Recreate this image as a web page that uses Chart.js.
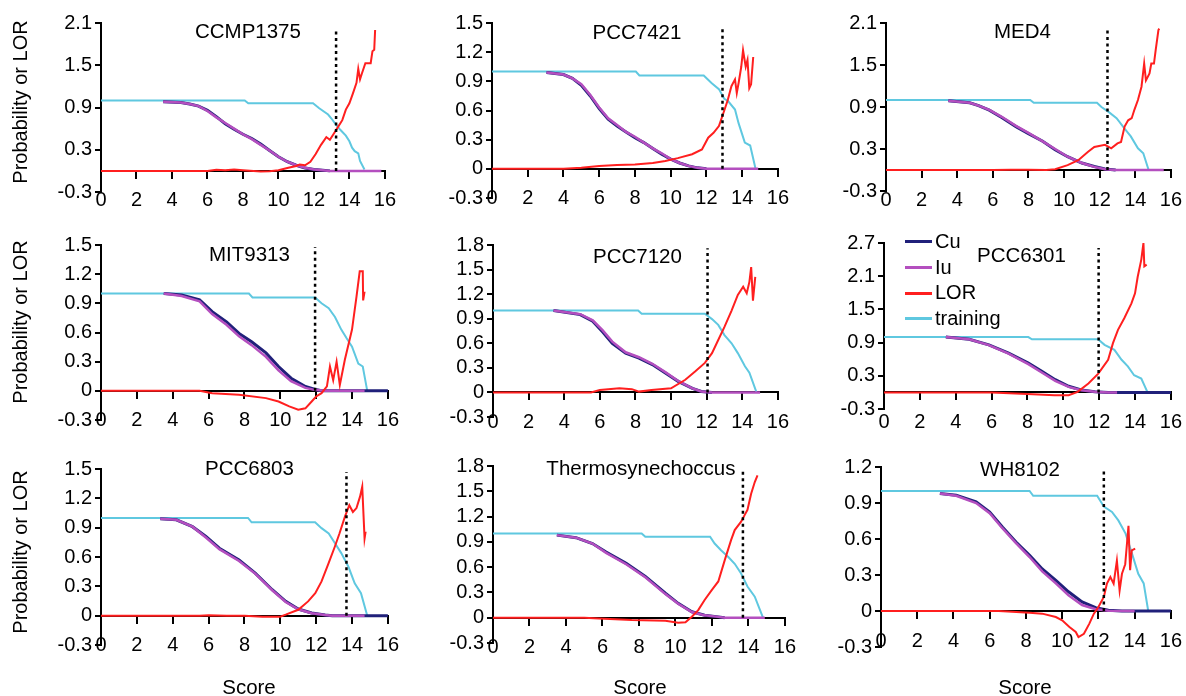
<!DOCTYPE html>
<html>
<head>
<meta charset="utf-8">
<script src="https://cdn.jsdelivr.net/npm/chart.js@4.4.1/dist/chart.umd.min.js"></script>
<style>
  body { margin: 0; background: #fff; overflow: hidden; }
  #wrap { position: relative; width: 1186px; height: 696px; font-family: "Liberation Sans", Arial, sans-serif; color: #000; }
  .panel { position: absolute; }
  .ylab { position: absolute; font-size: 20px; white-space: nowrap; transform: translate(-50%, -50%) rotate(-90deg); }
  .xlab { position: absolute; font-size: 20.5px; transform: translate(-50%, -50%); }
  .legend { position: absolute; left: 905px; top: 229px; font-size: 20px; line-height: 25.7px; }
  .legend div { display: flex; align-items: center; }
  .legend span.sw { display: inline-block; width: 27px; height: 3px; margin-right: 3px; }
</style>
</head>
<body>
<div id="wrap"></div>
<script>
// panel settings
const panelNames = ["CCMP1375", "PCC7421", "MED4", "MIT9313", "PCC7120", "PCC6301", "PCC6803", "Thermosynechoccus", "WH8102"];
const yMax = [2.1, 1.5, 2.1, 1.5, 1.8, 2.7, 1.5, 1.8, 1.2];
const yStep = [0.6, 0.3, 0.6, 0.3, 0.3, 0.6, 0.3, 0.3, 0.3];
const yMin = -0.3;
const xMin = 0, xMax = 16, xStep = 2;

// dotted cutoff line per panel
const cutoffScore = [13.25, 12.9, 12.44, 11.94, 12.05, 11.97, 13.69, 13.7, 12.3];
const cutoffTop = [2.02, 1.47, 2.02, 1.48, 1.76, 2.61, 1.47, 1.75, 1.19];

// Cu
const cuX = [
  [3.5, 4.5, 5, 5.5, 6, 6.5, 7, 7.5, 8, 8.5, 9, 9.5, 10, 10.5, 11, 11.5, 12, 12.5, 12.9],
  [3.05, 4, 4.5, 5, 5.5, 6, 6.5, 7, 7.5, 8, 8.5, 9, 9.5, 10, 10.5, 11, 11.5, 12],
  [3.5, 4.7, 5.2, 5.8, 6.5, 7.3, 8, 8.8, 9.5, 10.2, 11, 11.7, 12.3, 12.9],
  [3.5, 4.5, 5.5, 6.2, 7, 7.7, 8.4, 9.2, 9.9, 10.6, 11.4, 11.9, 12.3, 16],
  [3.4, 4.9, 5.6, 6.15, 6.7, 7.45, 8.2, 8.95, 9.7, 10.4, 11.2, 11.7, 12.3],
  [3.45, 4.75, 5.85, 6.95, 8.05, 8.8, 9.55, 10.3, 11, 11.75, 12.5, 16],
  [3.3, 4.2, 5.1, 5.85, 6.6, 7.7, 8.6, 9.55, 10.3, 11, 11.75, 12.5, 12.9, 16],
  [3.5, 4.55, 5.45, 6.2, 7.3, 8.35, 9.45, 10.15, 10.9, 11.6, 12.35, 12.7],
  [3.25, 4.15, 5.25, 6, 6.7, 7.45, 8.2, 8.9, 9.65, 10.35, 11.1, 11.85, 12.55, 13.3, 16]
];
const cuY = [
  [0.98, 0.97, 0.95, 0.92, 0.86, 0.77, 0.67, 0.59, 0.52, 0.46, 0.38, 0.29, 0.2, 0.13, 0.08, 0.04, 0.02, 0.01, 0],
  [0.99, 0.97, 0.93, 0.86, 0.75, 0.62, 0.51, 0.44, 0.38, 0.32, 0.27, 0.21, 0.15, 0.1, 0.06, 0.03, 0.01, 0],
  [0.99, 0.96, 0.92, 0.855, 0.75, 0.62, 0.52, 0.41, 0.29, 0.19, 0.1, 0.05, 0.015, 0],
  [1.0, 0.985, 0.935, 0.815, 0.71, 0.59, 0.505, 0.39, 0.25, 0.13, 0.045, 0.017, 0, 0],
  [1.0, 0.95, 0.87, 0.74, 0.6, 0.48, 0.42, 0.34, 0.235, 0.135, 0.05, 0.012, 0],
  [1.0, 0.96, 0.86, 0.71, 0.53, 0.38, 0.23, 0.11, 0.045, 0.012, 0, 0],
  [0.99, 0.98, 0.91, 0.81, 0.69, 0.57, 0.435, 0.265, 0.146, 0.068, 0.027, 0.007, 0, 0],
  [0.98, 0.95, 0.88, 0.78, 0.645, 0.49, 0.29, 0.17, 0.07, 0.03, 0.01, 0],
  [0.98, 0.965, 0.91, 0.825, 0.7, 0.575, 0.465, 0.35, 0.255, 0.16, 0.075, 0.028, 0.006, 0, 0]
];

// Iu
const iuX = [
  [3.5, 4.5, 5, 5.5, 6, 6.5, 7, 7.5, 8, 8.5, 9, 9.5, 10, 10.5, 11, 11.5, 12, 12.5, 12.9, 15.8],
  [3.05, 4, 4.5, 5, 5.5, 6, 6.5, 7, 7.5, 8, 8.5, 9, 9.5, 10, 10.5, 11, 11.5, 12, 14.9],
  [3.5, 4.7, 5.2, 5.8, 6.5, 7.3, 8, 8.8, 9.5, 10.2, 11, 11.7, 12.3, 12.9, 15.6],
  [3.5, 4.5, 5.5, 6.2, 7, 7.7, 8.4, 9.2, 9.9, 10.6, 11.4, 11.9, 12.5, 14.7],
  [3.4, 4.9, 5.6, 6.15, 6.7, 7.45, 8.2, 8.95, 9.7, 10.4, 11.2, 11.7, 12.3, 15],
  [3.45, 4.75, 5.85, 6.95, 8.05, 8.8, 9.55, 10.3, 11, 11.75, 12.5, 13],
  [3.3, 4.2, 5.1, 5.85, 6.6, 7.7, 8.6, 9.55, 10.3, 11, 11.75, 12.5, 12.9, 14.7],
  [3.5, 4.55, 5.45, 6.2, 7.3, 8.35, 9.45, 10.15, 10.9, 11.6, 12.35, 12.7, 14.9],
  [3.25, 4.15, 5.25, 6, 6.7, 7.45, 8.2, 8.9, 9.65, 10.35, 11.1, 11.85, 12.55, 14]
];
const iuY = [
  [0.98, 0.97, 0.95, 0.92, 0.85, 0.76, 0.68, 0.6, 0.52, 0.45, 0.37, 0.29, 0.2, 0.13, 0.08, 0.045, 0.02, 0.01, 0, 0],
  [0.99, 0.97, 0.93, 0.87, 0.76, 0.63, 0.52, 0.45, 0.38, 0.33, 0.27, 0.21, 0.16, 0.1, 0.06, 0.03, 0.01, 0, 0],
  [0.99, 0.96, 0.92, 0.86, 0.76, 0.63, 0.53, 0.41, 0.3, 0.19, 0.1, 0.045, 0.012, 0, 0],
  [1.0, 0.975, 0.92, 0.79, 0.68, 0.56, 0.47, 0.35, 0.21, 0.1, 0.03, 0.01, 0, 0],
  [1.0, 0.955, 0.88, 0.76, 0.62, 0.49, 0.43, 0.35, 0.245, 0.14, 0.05, 0.012, 0, 0],
  [1.0, 0.96, 0.855, 0.7, 0.51, 0.36, 0.21, 0.1, 0.04, 0.01, 0, 0],
  [0.99, 0.98, 0.91, 0.8, 0.68, 0.56, 0.43, 0.26, 0.14, 0.065, 0.025, 0.006, 0, 0],
  [0.98, 0.95, 0.88, 0.77, 0.635, 0.48, 0.28, 0.165, 0.068, 0.028, 0.01, 0, 0],
  [0.98, 0.96, 0.9, 0.815, 0.69, 0.565, 0.45, 0.33, 0.23, 0.13, 0.05, 0.015, 0.003, 0]
];

// LOR
const lorX = [
  [0, 6, 6.5, 7, 7.5, 8, 9, 9.5, 10, 10.5, 11, 11.2, 11.5, 11.8, 12.1, 12.4, 12.7, 12.9, 13.1, 13.3, 13.6, 13.8, 14, 14.2, 14.4, 14.5, 14.6, 14.7, 14.9, 15.2, 15.3, 15.4, 15.45],
  [0, 4, 5, 6, 7, 8, 9, 9.7, 10.4, 11.2, 11.75, 12.1, 12.4, 12.7, 13, 13.2, 13.4, 13.6, 13.7, 13.8, 13.95, 14.05, 14.2, 14.3, 14.4, 14.5, 14.62],
  [0, 6, 7, 8, 9, 9.5, 10.2, 10.8, 11.35, 11.7, 12.3, 12.65, 13, 13.2, 13.4, 13.6, 13.8, 13.95, 14.15, 14.35, 14.5, 14.6, 14.8, 14.9, 15.05, 15.15, 15.3, 15.35],
  [0, 5.5, 6.2, 7.7, 9.2, 9.9, 10.5, 11, 11.4, 11.75, 12, 12.3, 12.6, 12.77, 12.95, 13.14, 13.32, 13.6, 14, 14.25, 14.43, 14.6, 14.62, 14.7],
  [0, 5.5, 6, 7.1, 7.8, 8.2, 8.9, 10, 10.8, 11.35, 11.9, 12.3, 12.65, 13, 13.4, 13.75, 14.05, 14.25, 14.4, 14.5, 14.6, 14.73],
  [0, 6, 8, 9.5, 10.3, 10.8, 11.4, 11.95, 12.5, 12.77, 13.05, 13.4, 13.8, 14, 14.15, 14.35, 14.47, 14.52, 14.65],
  [0, 5.5, 6, 7, 8, 9, 10, 10.3, 11, 11.55, 11.95, 12.3, 12.7, 13.05, 13.3, 13.6, 13.85, 14.05, 14.25, 14.45, 14.57, 14.7, 14.76],
  [0, 5, 5.8, 7.6, 9.45, 10.15, 10.55, 10.9, 11.25, 11.6, 12, 12.35, 12.7, 13.05, 13.25, 13.6, 13.8, 13.95, 14.15, 14.35, 14.5],
  [0, 6.5, 8.2, 8.9, 9.65, 10, 10.4, 10.75, 10.9, 11.2, 11.5, 11.75, 12, 12.3, 12.47, 12.66, 12.84, 13.02, 13.17, 13.3, 13.48, 13.66, 13.75, 13.84, 14.03]
];
const lorY = [
  [0, 0, 0.015, 0.01, 0.02, 0.01, -0.01, -0.005, 0.01, 0.04, 0.07, 0.09, 0.08, 0.13, 0.24, 0.37, 0.48, 0.44, 0.52, 0.6, 0.72, 0.87, 0.96, 1.1, 1.25, 1.45, 1.3, 1.38, 1.53, 1.53, 1.7, 1.72, 2.0],
  [0, 0, 0.01, 0.03, 0.04, 0.045, 0.06, 0.08, 0.11, 0.15, 0.2, 0.32, 0.37, 0.44, 0.6, 0.71, 0.85, 0.92, 0.78, 0.88, 1.05, 1.22, 1.05, 1.12, 0.83, 0.87, 1.15],
  [0, 0, 0.005, 0.005, 0, 0.01, 0.07, 0.14, 0.26, 0.33, 0.36, 0.31, 0.38, 0.4, 0.62, 0.71, 0.74, 0.86, 1.0, 1.19, 1.52, 1.28, 1.38, 1.52, 1.52, 1.72, 2.0, 2.02],
  [0, 0, -0.024, -0.04, -0.075, -0.11, -0.16, -0.195, -0.18, -0.11, -0.058, -0.024, 0.045, 0.25, 0.11, 0.3, 0.06, 0.32, 0.63, 0.97, 1.23, 1.23, 0.93, 1.02],
  [0, 0, 0.03, 0.05, 0.04, 0.01, 0.03, 0.05, 0.155, 0.255, 0.36, 0.48, 0.64, 0.8, 1.0, 1.19, 1.29, 1.21, 1.35, 1.53, 1.12, 1.41],
  [0, 0, -0.03, -0.05, -0.05, 0.01, 0.16, 0.34, 0.59, 0.89, 1.13, 1.34, 1.61, 1.79, 2.09, 2.4, 2.7, 2.28, 2.31],
  [0, 0, 0.005, 0, 0, -0.01, -0.01, 0.01, 0.06, 0.146, 0.23, 0.35, 0.54, 0.71, 0.84, 1.01, 1.13, 1.06, 1.1, 1.22, 1.32, 0.79, 0.86],
  [0, 0, -0.008, -0.028, -0.036, -0.06, -0.055, 0.012, 0.09, 0.21, 0.33, 0.43, 0.68, 0.92, 1.04, 1.14, 1.22, 1.28, 1.47, 1.61, 1.69],
  [0, 0, -0.014, -0.022, -0.05, -0.078, -0.133, -0.175, -0.217, -0.19, -0.105, -0.022, 0.033, 0.117, 0.228, 0.283, 0.228, 0.42, 0.17, 0.31, 0.39, 0.71, 0.34, 0.505, 0.52]
];

// training
const trainX = [
  [0, 8.1, 8.3, 11.95, 12.3, 12.8, 13, 13.2, 13.5, 13.8, 14, 14.15, 14.3, 14.5, 14.6, 14.85],
  [0, 8.05, 8.25, 11.85, 12.3, 12.7, 13, 13.2, 13.6, 13.8, 14.15, 14.45, 14.75],
  [0, 8.1, 8.3, 11.85, 12.1, 12.5, 12.95, 13.4, 13.75, 14.15, 14.45, 14.75],
  [0, 8.25, 8.45, 11.94, 12.3, 12.7, 13.05, 13.4, 13.7, 14, 14.35, 14.6, 14.85],
  [0, 8.15, 8.35, 11.9, 12.3, 12.65, 13, 13.4, 13.75, 14.15, 14.4, 14.8],
  [0, 8.05, 8.25, 11.94, 12.3, 12.85, 13.25, 13.6, 13.95, 14.35, 14.7],
  [0, 8.2, 8.4, 11.94, 12.3, 12.7, 13.05, 13.4, 13.8, 14.15, 14.5, 14.85],
  [0, 8.15, 8.35, 11.9, 12.15, 12.5, 12.9, 13.25, 13.6, 13.95, 14.35, 14.8],
  [0, 8.2, 8.4, 11.93, 12.3, 12.75, 13.1, 13.5, 13.85, 14.2, 14.5, 14.75]
];
const trainY = [
  [1, 1, 0.96, 0.96, 0.89, 0.8, 0.74, 0.67, 0.58, 0.5, 0.42, 0.33, 0.28, 0.25, 0.14, 0.02],
  [1, 1, 0.96, 0.96, 0.88, 0.82, 0.72, 0.7, 0.61, 0.47, 0.27, 0.24, 0],
  [1, 1, 0.96, 0.96, 0.9, 0.83, 0.74, 0.59, 0.48, 0.31, 0.24, 0],
  [1, 1, 0.96, 0.96, 0.9, 0.85, 0.76, 0.63, 0.54, 0.455, 0.28, 0.25, 0],
  [1, 1, 0.96, 0.96, 0.895, 0.825, 0.7, 0.6, 0.48, 0.32, 0.24, 0],
  [1, 1, 0.96, 0.96, 0.86, 0.77, 0.59, 0.47, 0.31, 0.25, 0],
  [1, 1, 0.955, 0.955, 0.895, 0.84, 0.74, 0.64, 0.5, 0.33, 0.23, 0],
  [1, 1, 0.96, 0.96, 0.88, 0.8, 0.72, 0.64, 0.525, 0.37, 0.25, 0],
  [1, 1, 0.96, 0.96, 0.87, 0.825, 0.755, 0.645, 0.48, 0.31, 0.23, 0]
];

const seriesNames = ["Cu", "Iu", "LOR", "training"];
const seriesColors = ["#20207a", "#b44fbf", "#ff1f1f", "#5fc8e0"];

// plot area of each panel on the page (left, top, right, bottom)
const boxes = [
  [101, 23, 387, 192], [492, 23, 780, 198], [886, 23, 1173, 191],
  [101, 245, 390, 420], [493, 245, 780, 417], [884, 243, 1173, 409],
  [101, 469, 390, 645], [493, 466, 787, 643], [881, 467, 1173, 647]
];
const titleDy = [9, 10, 9, 10, 12, 13, 0, 3, 3];
const titleDx = [5, 2, -6];

const FONT = "'Liberation Sans', Arial, sans-serif";
Chart.defaults.font.family = FONT;
Chart.defaults.font.size = 20;
Chart.defaults.color = "#000";

const panelTitle = {
  id: "panelTitle",
  afterDraw(chart, args, opts) {
    const { ctx, chartArea } = chart;
    ctx.save();
    ctx.font = "20.5px " + FONT;
    ctx.fillStyle = "#000";
    ctx.textAlign = "center";
    ctx.textBaseline = "middle";
    ctx.fillText(opts.text, (chartArea.left + chartArea.right) / 2 + opts.dx, chartArea.top + opts.dy);
    ctx.restore();
  }
};

const pts = (xs, ys) => xs.map((x, i) => ({ x: x, y: ys[i] }));
const wrap = document.getElementById("wrap");

panelNames.forEach((name, p) => {
  const [l, t, r, b] = boxes[p];
  const padL = 80, padT = 15, padR = 20, padB = 45;
  const div = document.createElement("div");
  div.className = "panel";
  div.style.left = (l - padL) + "px";
  div.style.top = (t - padT) + "px";
  const cv = document.createElement("canvas");
  cv.width = (r - l) + padL + padR;
  cv.height = (b - t) + padT + padB;
  div.appendChild(cv);
  wrap.appendChild(div);

  new Chart(cv, {
    type: "line",
    data: {
      datasets: [
        { label: "cutoff", data: pts([cutoffScore[p], cutoffScore[p]], [0, cutoffTop[p]]), borderColor: "#000", borderWidth: 2.5, borderDash: [3, 3.5] },
        { label: "LOR", data: pts(lorX[p], lorY[p]), borderColor: seriesColors[2], borderWidth: 2 },
        { label: "Iu", data: pts(iuX[p], iuY[p]), borderColor: seriesColors[1], borderWidth: 2.5 },
        { label: "Cu", data: pts(cuX[p], cuY[p]), borderColor: seriesColors[0], borderWidth: 3 },
        { label: "training", data: pts(trainX[p], trainY[p]), borderColor: seriesColors[3], borderWidth: 2 }
      ]
    },
    options: {
      responsive: false,
      animation: false,
      devicePixelRatio: 1,
      layout: { padding: { left: 0, top: padT, right: padR, bottom: padB } },
      elements: { point: { radius: 0 }, line: { tension: 0, fill: false } },
      plugins: {
        legend: { display: false },
        tooltip: { enabled: false },
        panelTitle: { text: name, dx: titleDx[p % 3], dy: titleDy[p] }
      },
      scales: {
        x: {
          type: "linear",
          position: { y: 0 },
          min: xMin, max: xMax,
          border: { display: true, color: "#000", width: 2 },
          grid: { drawOnChartArea: false, drawTicks: true, tickLength: 7, color: "#000", lineWidth: 2 },
          ticks: { stepSize: xStep, autoSkip: false, maxRotation: 0, padding: 11, font: { size: 20 } }
        },
        y: {
          type: "linear",
          position: "left",
          min: yMin, max: yMax[p],
          afterFit: (s) => { s.width = padL; },
          border: { display: true, color: "#000", width: 2 },
          grid: { drawOnChartArea: false, drawTicks: true, tickLength: 6, color: "#000", lineWidth: 2 },
          ticks: {
            stepSize: yStep[p], autoSkip: false, maxTicksLimit: 20, padding: 3, font: { size: 20 },
            callback: (v) => String(Math.round(v * 10) / 10)
          }
        }
      }
    },
    plugins: [panelTitle]
  });
});

// axis titles
[102, 322, 552].forEach(y => {
  const d = document.createElement("div");
  d.className = "ylab";
  d.style.left = "20px";
  d.style.top = y + "px";
  d.textContent = "Probability or LOR";
  wrap.appendChild(d);
});
[249, 640, 1025].forEach(x => {
  const d = document.createElement("div");
  d.className = "xlab";
  d.style.left = x + "px";
  d.style.top = "687px";
  d.textContent = "Score";
  wrap.appendChild(d);
});

// legend inside PCC6301
const leg = document.createElement("div");
leg.className = "legend";
seriesNames.forEach((n, i) => {
  const row = document.createElement("div");
  row.innerHTML = '<span class="sw" style="background:' + seriesColors[i] + '"></span>' + n;
  leg.appendChild(row);
});
wrap.appendChild(leg);
</script>
</body>
</html>
